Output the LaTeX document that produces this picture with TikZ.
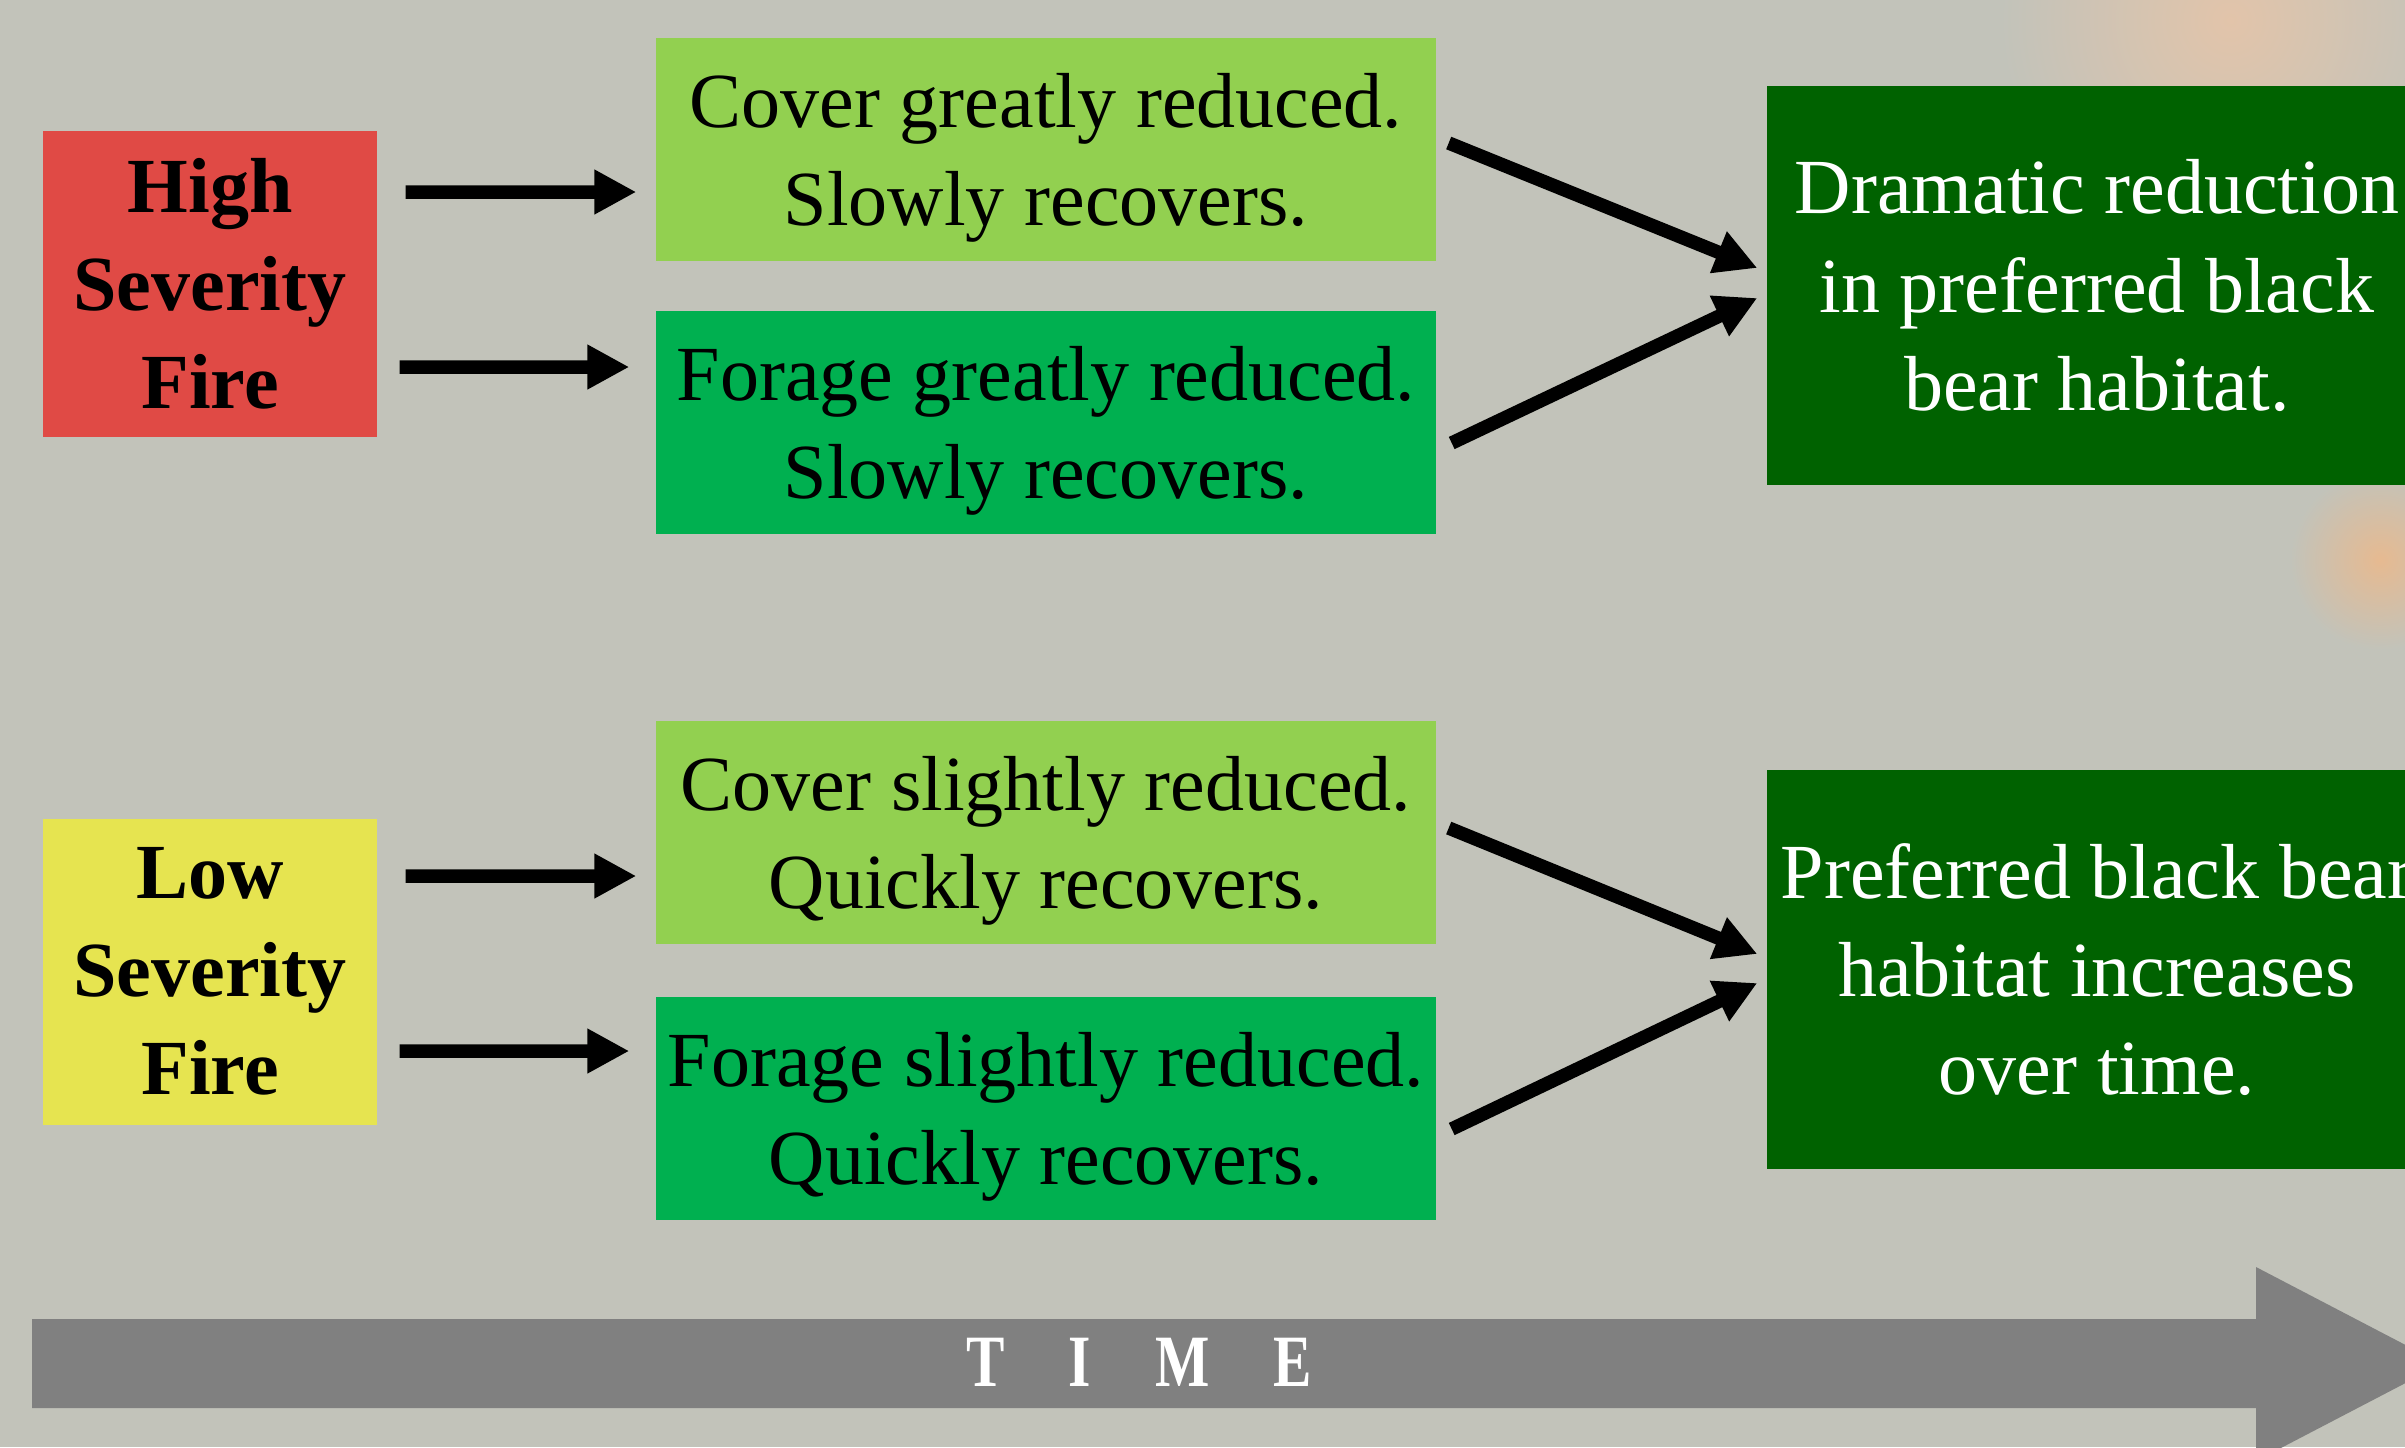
\documentclass[tikz,border=0pt]{standalone}
\usepackage{fontspec}
\setmainfont{Liberation Serif}
\newfontfamily\timefont[FakeStretch=0.78]{Liberation Serif}
\usetikzlibrary{arrows.meta,positioning}

\definecolor{bggray}{RGB}{194,195,186}
\definecolor{peach}{RGB}{226,196,170}
\definecolor{firered}{RGB}{224,74,69}
\definecolor{fireyellow}{RGB}{230,228,80}
\definecolor{covergreen}{RGB}{146,208,80}
\definecolor{foragegreen}{RGB}{0,176,80}
\definecolor{habgreen}{RGB}{0,98,0}
\definecolor{timegray}{RGB}{128,128,128}

\begin{document}
\begin{tikzpicture}[x=0.1mm, y=-0.1mm,
    every node/.style={rectangle, inner sep=0pt, align=center, font=\fontsize{22.2}{27.9}\selectfont},
    firebox/.style={minimum width=33.4mm, minimum height=30.6mm, font=\fontsize{22.2}{27.9}\selectfont\bfseries},
    effbox/.style={minimum width=78mm, minimum height=22.3mm, text depth=0pt},
    habbox/.style={fill=habgreen, text=white, minimum width=66mm, minimum height=39.9mm},
    arr/.style={-{Triangle[length=4.2mm,width=4.2mm]}, line width=1.35mm, black}]

    % background
    \useasboundingbox (0,0) rectangle (2405,1447);
    \clip (0,0) rectangle (2405,1447);
    \fill[bggray] (0,0) rectangle (2405,1447);
    \shade[inner color=peach, outer color=bggray] (2230,20) circle (230);
    \shade[inner color=peach!85!orange, outer color=bggray] (2380,560) circle (90);

    % time
    \fill[timegray] (32,1319) -- (2256,1319) -- (2256,1267) -- (2442,1364)
        -- (2256,1461) -- (2256,1408) -- (32,1408) -- cycle;
    \node[text=white, font=\fontsize{21}{25}\timefont\bfseries] (time) at (1139,1362)
        {T\hspace{6.4mm}I\hspace{6.4mm}M\hspace{6.4mm}E};

    % high severity
    \node[firebox, fill=firered] (hsf) at (210,283.5) {High\\Severity\\Fire};
    \node[effbox, fill=covergreen] (covH) at (1046,149) {Cover greatly reduced.\\Slowly recovers.};
    \node[effbox, fill=foragegreen] (forH) at (1046,422.5) {Forage greatly reduced.\\Slowly recovers.};
    \node[habbox] (habH) at (2097,285.5) {Dramatic reduction\\in preferred black\\bear habitat.};

    % low severity
    \node[firebox, fill=fireyellow] (lsf) at (210,971.5) {Low\\Severity\\Fire};
    \node[effbox, fill=covergreen] (covL) at (1046,832.5) {Cover slightly reduced.\\Quickly recovers.};
    \node[effbox, fill=foragegreen] (forL) at (1046,1108) {Forage slightly reduced.\\Quickly recovers.};
    \node[habbox] (habL) at (2097,969.5) {Preferred black bear\\habitat increases\\over time.};

    \draw[arr] ([shift={(2.8mm,9.15mm)}]hsf.east) -- ([shift={(-1.9mm,-4.3mm)}]covH.west);
    \draw[arr] ([shift={(2.2mm,-8.35mm)}]hsf.east) -- ([shift={(-2.6mm,5.55mm)}]forH.west);
    \draw[arr] ([shift={(1.2mm,0.6mm)}]covH.east) -- ([shift={(-0.9mm,1.75mm)}]habH.west);
    \draw[arr] ([shift={(1.5mm,-2.05mm)}]forH.east) -- ([shift={(-0.9mm,-1.25mm)}]habH.west);

    \draw[arr] ([shift={(2.8mm,9.55mm)}]lsf.east) -- ([shift={(-1.9mm,-4.35mm)}]covL.west);
    \draw[arr] ([shift={(2.2mm,-7.95mm)}]lsf.east) -- ([shift={(-2.6mm,5.7mm)}]forL.west);
    \draw[arr] ([shift={(1.2mm,0.45mm)}]covL.east) -- ([shift={(-0.9mm,1.55mm)}]habL.west);
    \draw[arr] ([shift={(1.5mm,-2.1mm)}]forL.east) -- ([shift={(-0.9mm,-1.35mm)}]habL.west);
\end{tikzpicture}
\end{document}
